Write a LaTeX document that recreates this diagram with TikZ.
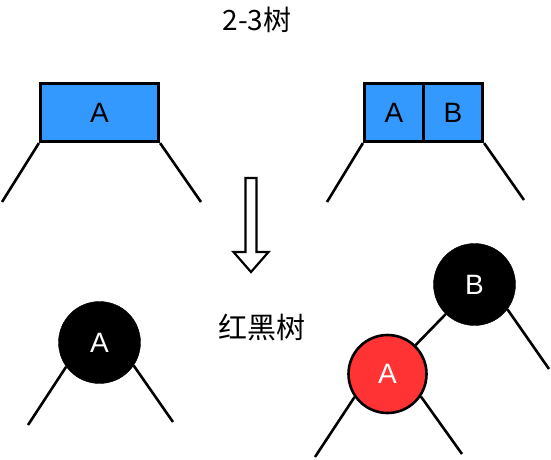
\documentclass[tikz,border=0pt]{standalone}
\usepackage{fontspec}
\setmainfont{Liberation Sans}
\newfontfamily\cjk{Noto Sans CJK SC}
\usepackage{tikz}
\usepackage{xcolor}
\usetikzlibrary{positioning}
\definecolor{cKey}{RGB}{51,153,255}
\definecolor{cRed}{RGB}{255,51,51}
\tikzset{
	keybox/.style   ={rectangle, draw=black, line width=3.2pt, fill=cKey, inner sep=0pt, minimum width=118pt, minimum height=58pt, font=\fontsize{28}{32}\selectfont},
	halfkey/.style  ={keybox, minimum width=59pt},
	blacknode/.style={circle, draw=black, fill=black, text=white, inner sep=0pt, minimum size=82pt, font=\fontsize{28}{32}\selectfont},
	rednode/.style  ={circle, draw=black, line width=2.6pt, fill=cRed, text=white, inner sep=0pt, minimum size=78pt, font=\fontsize{28}{32}\selectfont},
	heading/.style  ={font=\cjk\fontsize{28}{32}\selectfont},
	treeedge/.style ={line width=2.6pt},
	hollow/.style   ={draw=black, line width=2.2pt, fill=white, line join=miter},
}

\begin{document}
\begin{tikzpicture}[x=1pt, y=-1pt]
	\useasboundingbox (0,0) rectangle (551,460);
	% 2-3 tree
	\node[heading] (t23) at (257,20) {2-3树};
	\node[keybox] (k2) at (99.5,112.5) {A};
	\node[halfkey] (k3a) at (394,112.5) {A};
	\node[halfkey] (k3b) at (453,112.5) {B};
	\coordinate (k2l) at (2,202);
	\coordinate (k2r) at (201,202);
	\coordinate (k3l) at (327,202);
	\coordinate (k3r) at (524,200);
	\draw[treeedge] (k2.south west) -- (k2l);
	\draw[treeedge] (k2.south east) -- (k2r);
	\draw[treeedge] (k3a.south west) -- (k3l);
	\draw[treeedge] (k3b.south east) -- (k3r);
	% hollow arrow
	\draw[hollow] (245.5,178) -- (256.5,178) -- (256.5,252) -- (268.5,252) -- (251,272) -- (233.5,252) -- (245.5,252) -- cycle;
	% red-black tree
	\node[heading, font=\cjk\fontsize{29}{33}\selectfont] (trb) at (262,328) {红黑树};
	\node[blacknode] (cA) at (99.5,342.5) {A};
	\node[blacknode] (rbB) at (474.5,284.5) {B};
	\node[rednode] (rbA) at (387.5,374) {A};
	\coordinate (cal) at (28,425);
	\coordinate (car) at (173,422);
	\coordinate (rbr) at (549,369);
	\coordinate (ral) at (315,457);
	\coordinate (rar) at (462,454);
	\draw[treeedge] (cA.216) -- (cal);
	\draw[treeedge] (cA.326) -- (car);
	\draw[treeedge] (rbB.323) -- (rbr);
	\draw[treeedge] (rbA.215) -- (ral);
	\draw[treeedge] (rbA.326) -- (rar);
	\draw[treeedge] (rbB) -- (rbA);
\end{tikzpicture}
\end{document}
